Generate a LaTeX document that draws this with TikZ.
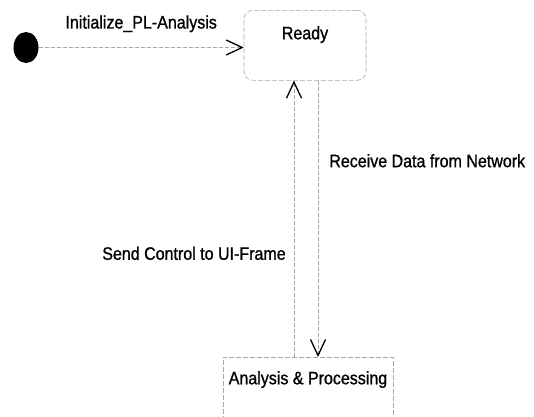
\documentclass[tikz,border=0pt]{standalone}
\usepackage{fontspec}
\setmainfont{Liberation Sans}[FakeStretch=0.89, FakeBold=1]
\usetikzlibrary{arrows.meta,shapes.geometric}

\begin{document}
\begin{tikzpicture}[x=1pt, y=-1pt,
        font=\fontsize{18}{21}\selectfont,
        flow/.style={gray!70, line width=0.6pt, dash pattern=on 4pt off 2pt,
            -{Straight Barb[length=16pt, width=15pt, line width=1.3pt, black]}},
        statebox/.style={draw=gray!70, line width=0.6pt, dash pattern=on 5pt off 2pt},
        trlabel/.style={inner sep=0pt, text=black}]
            \useasboundingbox (0,0) rectangle (534,416);
            \clip (0,0) rectangle (534,416);

            % states
            \node[ellipse, fill=black, minimum width=25pt, minimum height=31pt, inner sep=0pt] (start) at (26,47.5) {};
            \node[statebox, rounded corners=9pt, minimum width=122pt, minimum height=70pt, anchor=north] (ready) at (305,10) {};
            \node[inner sep=0pt, anchor=north] (readytxt) at ([yshift=-16pt]ready.north) {Ready};
            \node[statebox, minimum width=170pt, minimum height=70pt, anchor=north] (analysis) at (308,357) {};
            \node[inner sep=0pt, anchor=north] (analysistxt) at ([yshift=-14pt]analysis.north) {Analysis \& Processing};

            \coordinate (upx) at (294,0);
            \coordinate (downx) at (318,0);

            % transitions
            \draw[flow] (start.east) -- (start.east -| ready.west)
                node[trlabel, midway, above=15pt] (initlbl) {Initialize\_PL-Analysis};
            \draw[flow] (upx |- analysis.north) -- (upx |- ready.south)
                node[trlabel, pos=0.375, left=8pt] (sendlbl) {Send Control to UI-Frame};
            \draw[flow] (downx |- ready.south) -- (downx |- analysis.north)
                node[trlabel, pos=0.29, right=11pt] (recvlbl) {Receive Data from Network};
        \end{tikzpicture}
\end{document}
